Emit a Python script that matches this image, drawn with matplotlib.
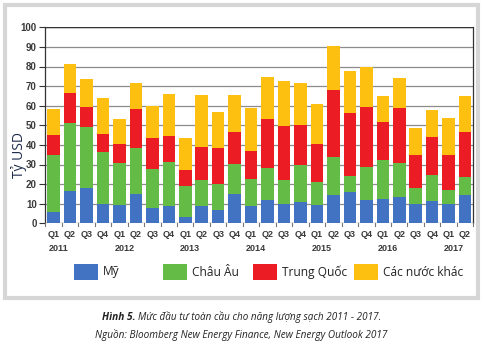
import matplotlib
matplotlib.use("Agg")
import matplotlib.pyplot as plt
from matplotlib.patches import Rectangle
import numpy as np

# Quarterly clean-energy investment, billion USD
quarters = ["Q1", "Q2", "Q3", "Q4"] * 6 + ["Q1", "Q2"]
years = ["2011", "2012", "2013", "2014", "2015", "2016", "2017"]

my = [6, 16.7, 18.2, 9.7, 9.5, 15.1, 7.8, 9.0, 3.2, 9.0, 6.6, 15.0,
      9.0, 11.7, 10.0, 10.9, 9.4, 14.6, 15.8, 11.9, 12.2, 13.4, 9.7, 11.6, 9.7, 14.6]
chau_au = [28.7, 34.7, 30.9, 26.9, 21.3, 23.5, 19.9, 22.1, 15.7, 12.9, 13.5, 15.3,
           13.8, 16.4, 11.9, 18.7, 11.9, 19.2, 8.5, 17.0, 20.1, 17.4, 8.2, 13.1, 7.1, 9.0]
trung_quoc = [10.2, 14.9, 10.4, 9.0, 9.5, 19.7, 15.7, 13.5, 8.5, 17.0, 18.3, 16.1,
              14.1, 25.0, 27.6, 20.6, 19.0, 34.2, 32.2, 30.6, 19.6, 28.0, 17.1, 19.5, 17.9, 23.0]
khac = [13.3, 15.0, 14.1, 18.5, 12.8, 13.5, 16.5, 21.4, 16.1, 26.4, 18.4, 18.9,
        21.8, 21.7, 23.1, 21.2, 20.8, 22.6, 21.4, 20.4, 13.2, 15.2, 13.5, 13.5, 19.2, 18.5]

series_names = ["Mỹ", "Châu Âu", "Trung Quốc", "Các nước khác"]
series_colors = ["#4173c2", "#64bb46", "#ec1c24", "#fec010"]

W, H = 483, 345
fig = plt.figure(figsize=(W / 100, H / 100), dpi=100)
fig.patch.set_facecolor("white")

# light grey frame around the chart panel
fig.patches.append(Rectangle((5 / W, 1 - 298 / H), 473 / W, 293 / H,
                             transform=fig.transFigure, fill=False,
                             edgecolor="#d6d6d6", linewidth=3, zorder=0))

ax = fig.add_axes([45 / W, 121.7 / H, 428 / W, 196 / H])
x = np.arange(len(quarters))
bottom = np.zeros(len(quarters))
for vals, name, col in zip([my, chau_au, trung_quoc, khac], series_names, series_colors):
    ax.bar(x, vals, width=0.76, bottom=bottom, color=col, label=name, zorder=3)
    bottom += np.array(vals)

ax.set_xlim(-0.52, 25.48)
ax.set_ylim(0, 100)
ax.set_yticks(np.arange(0, 101, 10))
ax.yaxis.grid(True, color="#8c8c8c", linewidth=0.9, zorder=0)
for s in ["top", "bottom"]:
    ax.spines[s].set_visible(False)
for s in ["left", "right"]:
    ax.spines[s].set_color("#333333")
    ax.spines[s].set_linewidth(0.9)
ax.axhline(100, color="#333333", linewidth=1.0, zorder=4)
ax.axhline(0, color="#777777", linewidth=0.8, zorder=4)

ax.tick_params(axis="y", labelsize=7, colors="#333333", length=4, width=0.8, pad=2)
for t in ax.get_yticklabels():
    t.set_family("Liberation Sans")
    t.set_fontweight("bold")
    t.set_color("#3a3a3a")

ax.set_xticks(x)
ax.set_xticklabels([])
ax.tick_params(axis="x", length=0)
# small ticks between quarters
for b in np.arange(-0.5, 25.6, 1.0):
    ax.plot([b, b], [0, -1.3], color="#777777", linewidth=0.8, clip_on=False, zorder=5)

for xi, q in zip(x, quarters):
    ax.text(xi, -3.5, q, ha="center", va="top", fontsize=6.5, family="Liberation Sans",
            fontweight="bold", color="#3a3a3a")
for i, y in enumerate(years):
    ax.text(4 * i + 0.3, -10.5, y, ha="center", va="top", fontsize=6.5,
            family="Liberation Sans", fontweight="bold", color="#3a3a3a")

fig.text(19 / W, 1 - 155 / H, "Tỷ USD", rotation=90, ha="center", va="center",
         fontsize=10, family="Open Sans", color="#1f2d4d")

# legend drawn as patches + labels in figure coordinates
leg_x = [74, 163, 253, 354]
for lx, name, col in zip(leg_x, series_names, series_colors):
    fig.patches.append(Rectangle((lx / W, 1 - 280 / H), 24 / W, 16 / H,
                                 transform=fig.transFigure, facecolor=col,
                                 edgecolor="none"))
    fig.text((lx + 29) / W, 1 - 272 / H, name, ha="left", va="center",
             fontsize=8.6, family="Open Sans", color="#222222")

t1 = fig.text(102 / W, 1 - 317 / H, "Hình 5.", ha="left", va="center",
              fontsize=7.3, family="Open Sans", style="italic", fontweight="bold",
              color="#222222")
fig.canvas.draw()
bb = t1.get_window_extent()
fig.text((bb.x1 + 3) / W, 1 - 317 / H,
         "Mức đầu tư toàn cầu cho năng lượng sạch 2011 - 2017.",
         ha="left", va="center", fontsize=7.1, family="Open Sans", style="italic",
         color="#222222")
fig.text(241.5 / W, 1 - 335 / H,
         "Nguồn: Bloomberg New Energy Finance, New Energy Outlook 2017",
         ha="center", va="center", fontsize=7.2, family="Open Sans", style="italic",
         color="#222222")

fig.savefig("out.png", dpi=100)
